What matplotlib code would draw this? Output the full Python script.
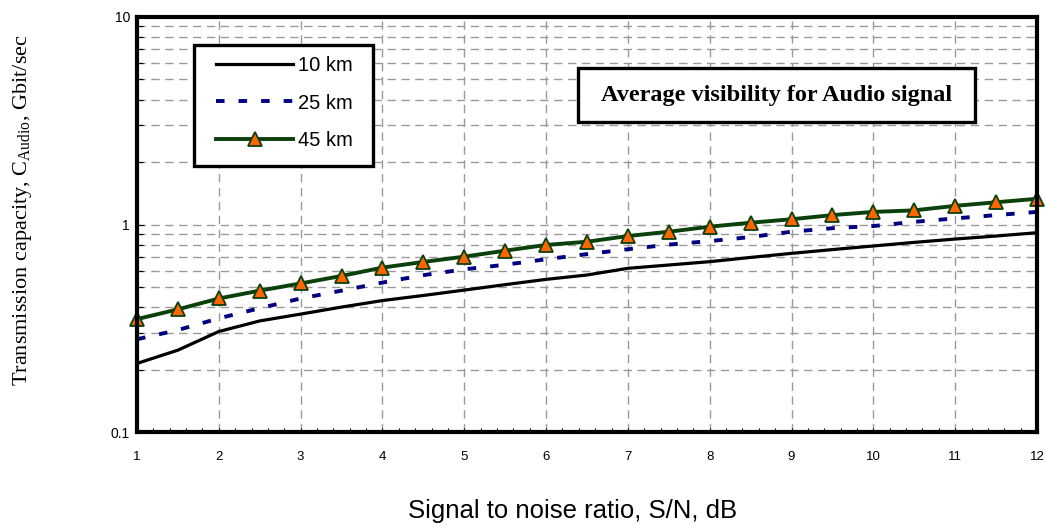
# -*- coding: utf-8 -*-
# Transmission capacity vs S/N for the audio signal (average visibility)
import matplotlib
matplotlib.use('Agg')
import matplotlib.pyplot as plt
from matplotlib.ticker import LogLocator, MultipleLocator, FixedLocator, NullFormatter, FixedFormatter
from matplotlib.patches import Rectangle

# Data
snr_db = [1, 1.5, 2, 2.5, 3, 3.5, 4, 4.5, 5, 5.5, 6, 6.5,
          7, 7.5, 8, 8.5, 9, 9.5, 10, 10.5, 11, 11.5, 12]
cap_10km = [0.214, 0.248, 0.305, 0.343, 0.370, 0.400, 0.430, 0.455, 0.483, 0.513, 0.544, 0.571,
            0.615, 0.638, 0.662, 0.694, 0.726, 0.757, 0.788, 0.820, 0.851, 0.880, 0.913]
cap_25km = [0.280, 0.310, 0.353, 0.395, 0.440, 0.480, 0.525, 0.570, 0.608, 0.640, 0.680, 0.720,
            0.760, 0.800, 0.832, 0.870, 0.923, 0.960, 0.983, 1.030, 1.070, 1.110, 1.150]
cap_45km = [0.350, 0.390, 0.440, 0.480, 0.520, 0.565, 0.620, 0.660, 0.700, 0.748, 0.797, 0.826,
            0.880, 0.923, 0.976, 1.020, 1.060, 1.110, 1.150, 1.170, 1.230, 1.280, 1.330]
labels = ['10 km', '25 km', '45 km']
x_ticks = list(range(1, 13))
y_ticks = [0.1, 1, 10]
y_ticklabels = ['0.1', '1', '10']

plt.rcParams['font.family'] = ['Liberation Sans', 'DejaVu Sans']
plt.rcParams['mathtext.fontset'] = 'custom'
plt.rcParams['mathtext.rm'] = 'Liberation Serif'
plt.rcParams['mathtext.it'] = 'Liberation Serif:italic'

fig = plt.figure(figsize=(10.46, 5.27), dpi=100)
ax = fig.add_axes([137 / 1046, 1 - 432 / 527, 900 / 1046, 415 / 527])

green = '#0a400a'
ax.plot(snr_db, cap_10km, color='black', lw=2.3, label=labels[0], zorder=3)
ax.plot(snr_db, cap_25km, color='#000080', lw=2.8, dashes=(2.2, 3.6), label=labels[1], zorder=3)
ax.plot(snr_db, cap_45km, color=green, lw=2.8, marker='^', markersize=10.5,
        markerfacecolor='#ff6600', markeredgecolor=green, markeredgewidth=1.3,
        label=labels[2], zorder=4, clip_on=False)

ax.set_yscale('log')
ax.set_xlim(1, 12)
ax.set_ylim(0.1, 10)

ax.xaxis.set_major_locator(FixedLocator(x_ticks))
ax.xaxis.set_minor_locator(MultipleLocator(0.2))
ax.yaxis.set_major_locator(FixedLocator(y_ticks))
ax.yaxis.set_major_formatter(FixedFormatter(y_ticklabels))
ax.yaxis.set_minor_locator(LogLocator(base=10, subs=range(2, 10)))
ax.yaxis.set_minor_formatter(NullFormatter())

ax.tick_params(axis='both', which='both', direction='in', width=0.8)
ax.tick_params(axis='x', which='both', length=3, pad=14, labelsize=9.5)
ax.tick_params(axis='y', which='major', length=5, pad=5, labelsize=10)
ax.tick_params(axis='y', which='minor', length=4)
ax.tick_params(top=False, right=False, which='both')

ax.grid(True, which='major', axis='x', color='#9a9a9a', lw=1.0, dashes=(6, 4))
ax.grid(True, which='both', axis='y', color='#9a9a9a', lw=1.0, dashes=(6, 4))
ax.set_axisbelow(True)

for sp in ax.spines.values():
    sp.set_linewidth(3)
    sp.set_color('black')
    sp.set_zorder(5)

# legend: box drawn separately, entries placed inside it
ax.add_patch(Rectangle(((194 - 137) / 900, (432 - 166) / 415), 179 / 900, 121 / 415,
                       transform=ax.transAxes, facecolor='white', edgecolor='black',
                       lw=2.4, zorder=6))
leg = ax.legend(loc='upper left', bbox_to_anchor=((216 - 137) / 900, (432 - 56) / 415),
                borderaxespad=0, borderpad=0, fontsize=14.5, frameon=False,
                handlelength=3.83, handletextpad=0.25, labelspacing=0.92, markerscale=0.9)
leg.set_zorder(7)

# title box
ax.add_patch(Rectangle(((578 - 137) / 900, (432 - 122) / 415), 397 / 900, 54 / 415,
                       transform=ax.transAxes, facecolor='white', edgecolor='black',
                       lw=2.4, zorder=6))
ax.text((776.5 - 137) / 900, (432 - 95) / 415, 'Average visibility for Audio signal',
        transform=ax.transAxes, ha='center', va='center', fontsize=17.5,
        fontweight='bold', family='Liberation Serif', zorder=7)

fig.text(23 / 1046, 1 - 210 / 527,
         r'Transmission capacity, C$_{\mathrm{Audio}}$, Gbit/sec',
         rotation=90, ha='center', va='center', fontsize=16, family='Liberation Serif')
fig.text(573 / 1046, 1 - 511 / 527, 'Signal to noise ratio, S/N, dB',
         ha='center', va='center', fontsize=18.5)

plt.savefig('out.png', dpi=100)
